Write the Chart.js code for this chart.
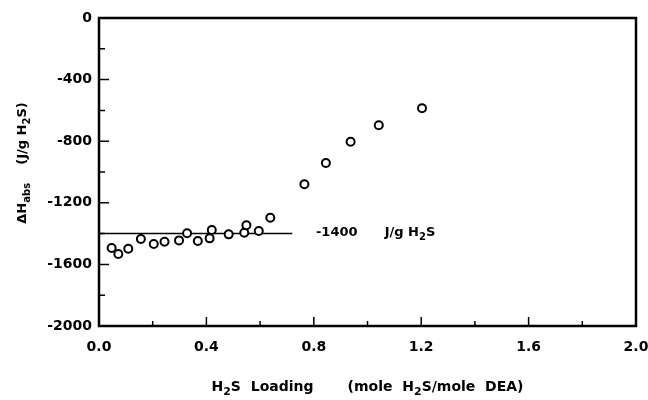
<!DOCTYPE html>
<html>
<head>
<meta charset="utf-8">
<title>H2S heat of absorption</title>
<script src="https://cdn.jsdelivr.net/npm/chart.js@4.4.0/dist/chart.umd.min.js"></script>
<style>
  html, body { margin: 0; padding: 0; background: #fff; }
  #wrap { width: 648px; height: 400px; position: relative; }
</style>
</head>
<body>
<div id="wrap"><canvas id="c"></canvas></div>
<script>
// measured points (H2S loading, heat of absorption J/g H2S)
const loading = [0.047, 0.072, 0.109, 0.156, 0.204, 0.244, 0.298, 0.328, 0.368, 0.412,
                 0.420, 0.483, 0.541, 0.549, 0.595, 0.638, 0.765, 0.845, 0.937, 1.042, 1.203];
const heatAbs = [-1494, -1532, -1498, -1435, -1468, -1453, -1444, -1398, -1448, -1431,
                 -1377, -1405, -1394, -1346, -1383, -1297, -1080, -942, -803, -697, -586];

// average line
const avgLineX = [0, 0.72];
const avgValue = -1400;
const avgLabelX = 0.808;

const xTicks = [0, 0.4, 0.8, 1.2, 1.6, 2.0];
const xMinor = [0.2, 0.6, 1.0, 1.4, 1.8];
const yTicks = [0, -400, -800, -1200, -1600, -2000];
const yMinor = [-200, -600, -1000, -1400, -1800];

const FONT = '"DejaVu Sans", "Liberation Sans", Arial, sans-serif';

// text runs: [text, isSubscript]
const xTitle = [['H', 0], ['2', 1], ['S  Loading       (mole  H', 0], ['2', 1], ['S/mole  DEA)', 0]];
const yTitle = [['\u0394H', 0], ['abs', 1], ['    (J/g H', 0], ['2', 1], ['S)', 0]];
const avgLabel = [['-1400      J/g H', 0], ['2', 1], ['S', 0]];

function runsWidth(ctx, runs, size) {
  let w = 0;
  runs.forEach(([t, sub]) => {
    ctx.font = 'bold ' + (sub ? Math.round(size * 0.8) : size) + 'px ' + FONT;
    w += ctx.measureText(t).width;
  });
  return w;
}

function drawRuns(ctx, runs, x, y, size, align) {
  const w = runsWidth(ctx, runs, size);
  let cx = align === 'center' ? x - w / 2 : x;
  ctx.textBaseline = 'middle';
  ctx.textAlign = 'left';
  runs.forEach(([t, sub]) => {
    ctx.font = 'bold ' + (sub ? Math.round(size * 0.8) : size) + 'px ' + FONT;
    ctx.fillText(t, cx, sub ? y + size * 0.35 : y);
    cx += ctx.measureText(t).width;
  });
}

const framePlugin = {
  id: 'frame',
  afterDraw(chart) {
    const { ctx, chartArea: a, scales } = chart;
    const xs = scales.x, ys = scales.y;
    ctx.save();
    ctx.strokeStyle = '#000';
    ctx.fillStyle = '#000';
    ctx.lineWidth = 2.5;
    ctx.strokeRect(a.left, a.top, a.right - a.left, a.bottom - a.top);

    // inward ticks
    ctx.lineWidth = 1.5;
    ctx.beginPath();
    xTicks.forEach(v => { const p = xs.getPixelForValue(v); ctx.moveTo(p, a.bottom); ctx.lineTo(p, a.bottom - 9); });
    xMinor.forEach(v => { const p = xs.getPixelForValue(v); ctx.moveTo(p, a.bottom); ctx.lineTo(p, a.bottom - 5); });
    yTicks.forEach(v => { const p = ys.getPixelForValue(v); ctx.moveTo(a.left, p); ctx.lineTo(a.left + 10, p); });
    yMinor.forEach(v => { const p = ys.getPixelForValue(v); ctx.moveTo(a.left, p); ctx.lineTo(a.left + 6, p); });
    ctx.stroke();

    // annotation next to the average line
    drawRuns(ctx, avgLabel, xs.getPixelForValue(avgLabelX), ys.getPixelForValue(avgValue) - 1, 13, 'left');

    // axis titles
    drawRuns(ctx, xTitle, (a.left + a.right) / 2, 387, 14, 'center');
    ctx.translate(23, 163);
    ctx.rotate(-Math.PI / 2);
    drawRuns(ctx, yTitle, 0, 0, 13, 'center');
    ctx.restore();
  }
};

const ctx = document.getElementById('c').getContext('2d');
new Chart(ctx, {
  type: 'scatter',
  data: {
    datasets: [
      {
        label: 'data',
        data: loading.map((x, i) => ({ x, y: heatAbs[i] })),
        pointStyle: 'circle',
        pointRadius: 4,
        pointBorderWidth: 2,
        pointBackgroundColor: '#fff',
        pointBorderColor: '#000',
        order: 1
      },
      {
        type: 'line',
        label: 'avg',
        data: avgLineX.map(x => ({ x, y: avgValue })),
        borderColor: '#000',
        borderWidth: 1.5,
        pointRadius: 0,
        order: 2
      }
    ]
  },
  options: {
    responsive: true,
    maintainAspectRatio: false,
    animation: false,
    layout: { padding: { left: 0, right: 12, top: 18, bottom: 0 } },
    plugins: { legend: { display: false }, tooltip: { enabled: false } },
    scales: {
      x: {
        type: 'linear', min: 0, max: 2,
        afterFit: s => { s.height = 74; s.paddingLeft = 0; s.paddingRight = 0; },
        afterBuildTicks: s => { s.ticks = xTicks.map(v => ({ value: v })); },
        grid: { display: false, drawTicks: false },
        border: { display: false },
        ticks: {
          padding: 13, color: '#000',
          font: { family: FONT, size: 14, weight: 'bold' },
          callback: v => Number(v).toFixed(1)
        }
      },
      y: {
        type: 'linear', min: -2000, max: 0,
        afterFit: s => { s.width = 99; s.paddingTop = 0; s.paddingBottom = 0; },
        afterBuildTicks: s => { s.ticks = yTicks.map(v => ({ value: v })); },
        grid: { display: false, drawTicks: false },
        border: { display: false },
        ticks: {
          padding: 7, color: '#000',
          font: { family: FONT, size: 14, weight: 'bold' },
          callback: v => String(v)
        }
      }
    }
  },
  plugins: [framePlugin]
});
</script>
</body>
</html>
